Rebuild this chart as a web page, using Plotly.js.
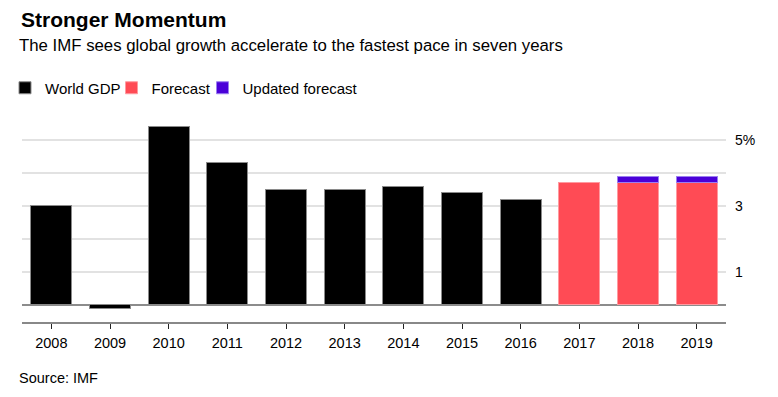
<!DOCTYPE html>
<html>
<head>
<meta charset="utf-8">
<script src="https://cdn.plot.ly/plotly-3.0.1.min.js"></script>
<style>html,body{margin:0;padding:0;background:#fff;}#chart{width:778px;height:397px;}</style>
</head>
<body>
<div id="chart"></div>
<script>
const gdpYears = ['2008','2009','2010','2011','2012','2013','2014','2015','2016'];
const worldGDP = [3.0, -0.1, 5.4, 4.3, 3.5, 3.5, 3.6, 3.4, 3.2];
const forecastYears = ['2017','2018','2019'];
const forecast = [3.7, 3.7, 3.7];
const updatedYears = ['2018','2019'];
const updatedForecast = [3.9, 3.9];
const yTickVals = [0, 1, 2, 3, 4, 5];
const yTickText = ['', '1', '', '3', '', '5%'];
const allYears = gdpYears.concat(forecastYears);

const updatedDelta = updatedYears.map((y, i) => +(updatedForecast[i] - forecast[forecastYears.indexOf(y)]).toFixed(2));

const FONT = 'Liberation Sans, Arial, Helvetica, sans-serif';
const PH = 202;
const py = p => (322 - p) / PH;
const px = p => (p - 22) / 704;

const traces = [
  {type:'bar', name:'World GDP', x: gdpYears, y: worldGDP, legend: 'legend',
   marker:{color:'#000000', line:{color:'#8a8a8a', width:1}}},
  {type:'bar', name:'Forecast', x: forecastYears, y: forecast, legend: 'legend2',
   marker:{color:'#ff4b55', line:{color:'#ff9aa0', width:1}}},
  {type:'bar', name:'Updated forecast', x: updatedYears, y: updatedDelta, legend: 'legend3',
   marker:{color:'#4a00d8', line:{color:'#9b7ff0', width:1}}}
];

const legBase = {orientation: 'h', xanchor: 'left', y: py(88), yanchor: 'middle',
  font: {family: FONT, size: 15, color: '#000'}, bgcolor: 'rgba(0,0,0,0)', borderwidth: 0};

const layout = {
  width: 778, height: 397,
  margin: {l: 22, r: 52, t: 120, b: 75, autoexpand: false},
  paper_bgcolor: '#ffffff', plot_bgcolor: '#ffffff',
  font: {family: FONT, color: '#000', size: 14},
  barmode: 'stack',
  bargap: 0.3,
  showlegend: true,
  legend: Object.assign({}, legBase, {x: px(5)}),
  legend2: Object.assign({}, legBase, {x: px(111.5)}),
  legend3: Object.assign({}, legBase, {x: px(202.5)}),
  title: {text: '<b>Stronger Momentum</b>', x: 21/778, xanchor: 'left', xref: 'container',
          y: 1 - 20/397, yanchor: 'middle', yref: 'container',
          font: {family: FONT, size: 21, color: '#000'}},
  xaxis: {type: 'category', categoryorder: 'array', categoryarray: allYears,
          range: [-0.5, allYears.length - 0.5], automargin: false,
          showline: true, linecolor: '#888', linewidth: 2,
          ticks: 'outside', ticklen: 5, tickwidth: 1, tickcolor: '#222',
          ticklabelstandoff: 2,
          showgrid: false, zeroline: false, fixedrange: true,
          tickfont: {family: FONT, size: 14.5, color: '#000'}},
  yaxis: {side: 'right', range: [-0.52, 5.6], tickvals: yTickVals, ticktext: yTickText,
          automargin: false,
          showgrid: true, gridcolor: '#e2e2e2', gridwidth: 1.5,
          zeroline: true, zerolinecolor: '#8c8c8c', zerolinewidth: 1.5,
          ticks: '', ticklabelstandoff: 8, showline: false, fixedrange: true,
          tickfont: {family: FONT, size: 14, color: '#000'}},
  annotations: [
    {text: 'The IMF sees global growth accelerate to the fastest pace in seven years',
     xref: 'paper', yref: 'paper', x: 0, xshift: -5, y: py(46), xanchor: 'left', yanchor: 'middle',
     showarrow: false, font: {family: FONT, size: 16.8, color: '#000'}},
    {text: 'Source: IMF', xref: 'paper', yref: 'paper', x: 0, xshift: -5, y: py(378),
     xanchor: 'left', yanchor: 'middle', showarrow: false,
     font: {family: FONT, size: 14.5, color: '#000'}}
  ]
};

Plotly.newPlot('chart', traces, layout, {displayModeBar: false, staticPlot: true});
</script>
</body>
</html>
